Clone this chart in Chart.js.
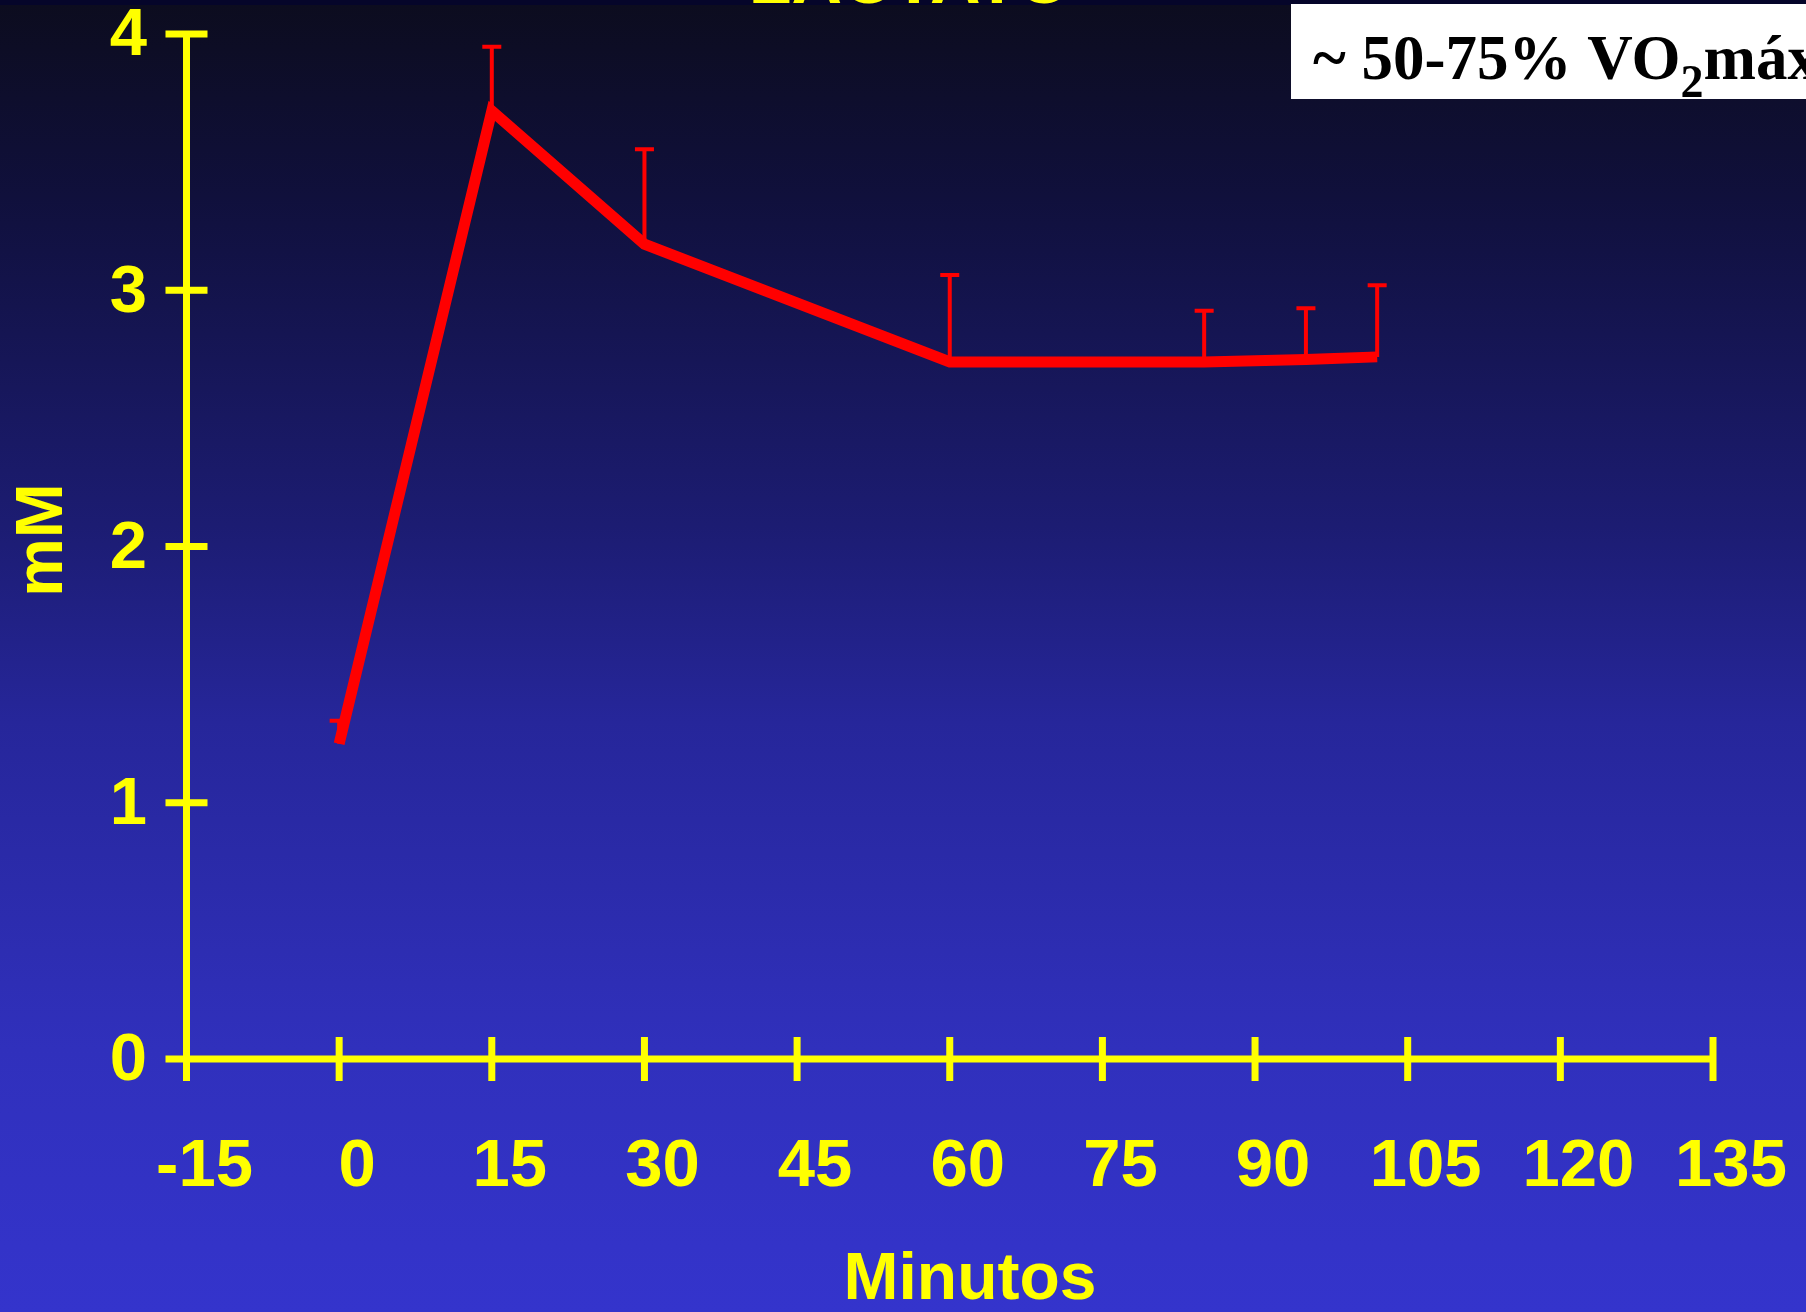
<!DOCTYPE html>
<html>
<head>
<meta charset="utf-8">
<title>Lactato</title>
<script src="https://cdn.jsdelivr.net/npm/chart.js@4.4.0/dist/chart.umd.min.js"></script>
<style>
  html, body { margin: 0; padding: 0; background: #0c0c1e; overflow: hidden; }
  #wrap { position: relative; width: 1806px; height: 1312px; }
</style>
</head>
<body>
<div id="wrap"><canvas id="lactate-chart"></canvas></div>
<script>
// Lactato (mM) durante el ejercicio, media + DE
const minutes   = [0, 15, 30, 60, 85, 95, 102];
const lactate   = [1.23, 3.70, 3.18, 2.72, 2.72, 2.73, 2.74];
const lactateSD = [0.09, 0.25, 0.37, 0.34, 0.20, 0.20, 0.28];

const xTicks = [-15, 0, 15, 30, 45, 60, 75, 90, 105, 120, 135];
const yTicks = [0, 1, 2, 3, 4];

const YELLOW = '#ffff00';
const RED = '#ff0000';
const SANS = '"Liberation Sans", Arial, sans-serif';
const SERIF = '"Liberation Serif", "Times New Roman", serif';

// ── background gradient ───────────────────────────────────────
const bgPlugin = {
  id: 'slideBg',
  beforeDraw(chart) {
    const { ctx, width, height } = chart;
    const g = ctx.createLinearGradient(0, 0, 0, height);
    g.addColorStop(0, '#0c0c1e');
    g.addColorStop(0.15, '#10103c');
    g.addColorStop(0.40, '#1c1c72');
    g.addColorStop(0.55, '#26269a');
    g.addColorStop(0.80, '#3030bc');
    g.addColorStop(1, '#3434cc');
    ctx.save();
    ctx.fillStyle = g;
    ctx.fillRect(0, 0, width, height);
    ctx.fillStyle = '#05052a';
    ctx.fillRect(0, 0, width, 5);
    ctx.restore();
  }
};

// ── axes with crossing ticks + error bars ─────────────────────
const axesPlugin = {
  id: 'crossAxes',
  beforeDatasetsDraw(chart) {
    const { ctx, scales: { x, y } } = chart;
    const x0 = x.getPixelForValue(xTicks[0]);
    const y0 = y.getPixelForValue(0);
    const half = 21;
    ctx.save();
    ctx.strokeStyle = YELLOW;
    ctx.lineWidth = 7;
    ctx.lineCap = 'butt';
    ctx.beginPath();
    ctx.moveTo(x0, y0);
    ctx.lineTo(x0, y.getPixelForValue(yTicks[yTicks.length - 1]));
    ctx.moveTo(x0 - half, y0);
    ctx.lineTo(x.getPixelForValue(xTicks[xTicks.length - 1]), y0);
    yTicks.forEach(v => {
      const py = y.getPixelForValue(v);
      ctx.moveTo(x0 - half, py);
      ctx.lineTo(x0 + half, py);
    });
    xTicks.forEach(v => {
      const px = x.getPixelForValue(v);
      ctx.moveTo(px, y0 - half - 1);
      ctx.lineTo(px, y0 + half + 1);
    });
    ctx.stroke();

    // upper error bars
    ctx.strokeStyle = RED;
    ctx.lineWidth = 4;
    minutes.forEach((m, i) => {
      const px = x.getPixelForValue(m);
      const pm = y.getPixelForValue(lactate[i]);
      const pt = y.getPixelForValue(lactate[i] + lactateSD[i]);
      ctx.beginPath();
      ctx.moveTo(px, pm);
      ctx.lineTo(px, pt);
      ctx.moveTo(px - 9.5, pt);
      ctx.lineTo(px + 9.5, pt);
      ctx.stroke();
    });
    ctx.restore();
  }
};

// ── slide texts: title, axis titles, intensity box ────────────
const textPlugin = {
  id: 'slideText',
  afterDraw(chart) {
    const { ctx, width } = chart;
    ctx.save();
    ctx.fillStyle = YELLOW;
    ctx.textBaseline = 'alphabetic';
    ctx.textAlign = 'center';

    ctx.font = `bold 70px ${SANS}`;
    ctx.fillText('LACTATO', 910, 3);

    ctx.font = `bold 66px ${SANS}`;
    ctx.fillText('Minutos', 970, 1299);

    ctx.save();
    ctx.translate(62, 540);
    ctx.rotate(-Math.PI / 2);
    ctx.fillText('mM', 0, 0);
    ctx.restore();

    // intensity box
    ctx.fillStyle = '#ffffff';
    ctx.fillRect(1291, 4, width - 1291, 95);
    ctx.fillStyle = '#000000';
    ctx.textAlign = 'left';
    let tx = 1313;
    ctx.font = `bold 63px ${SERIF}`;
    ctx.fillText('~ 50-75% VO', tx, 79);
    tx += ctx.measureText('~ 50-75% VO').width;
    ctx.font = `bold 46px ${SERIF}`;
    ctx.fillText('2', tx, 97);
    tx += ctx.measureText('2').width;
    ctx.font = `bold 63px ${SERIF}`;
    ctx.fillText('máx', tx, 79);
    ctx.restore();
  }
};

const tickFont = { family: SANS, size: 67, weight: 'bold' };

new Chart(document.getElementById('lactate-chart'), {
  type: 'line',
  data: {
    datasets: [{
      label: 'Lactato',
      data: minutes.map((m, i) => ({ x: m, y: lactate[i] })),
      borderColor: RED,
      borderWidth: 11,
      borderCapStyle: 'butt',
      borderJoinStyle: 'miter',
      pointRadius: 0,
      tension: 0,
      fill: false
    }]
  },
  options: {
    responsive: true,
    maintainAspectRatio: false,
    animation: false,
    layout: { padding: { top: 34, right: 93, left: 0, bottom: 0 } },
    plugins: {
      legend: { display: false },
      tooltip: { enabled: false },
      title: { display: false }
    },
    scales: {
      x: {
        type: 'linear',
        min: -15,
        max: 135,
        afterBuildTicks: s => { s.ticks = xTicks.map(v => ({ value: v })); },
        afterFit: s => { s.height = 253; s.paddingLeft = 0; s.paddingRight = 0; },
        grid: { display: false, drawTicks: false },
        border: { display: false },
        ticks: { color: YELLOW, font: tickFont, padding: 68, labelOffset: 18, maxRotation: 0, autoSkip: false }
      },
      y: {
        type: 'linear',
        min: 0,
        max: 4,
        afterBuildTicks: s => { s.ticks = yTicks.map(v => ({ value: v })); },
        afterFit: s => { s.width = 186.5; s.paddingTop = 0; s.paddingBottom = 0; },
        grid: { display: false, drawTicks: false },
        border: { display: false },
        ticks: { color: YELLOW, font: tickFont, padding: 39.5, labelOffset: 3 }
      }
    }
  },
  plugins: [bgPlugin, axesPlugin, textPlugin]
});
</script>
</body>
</html>
